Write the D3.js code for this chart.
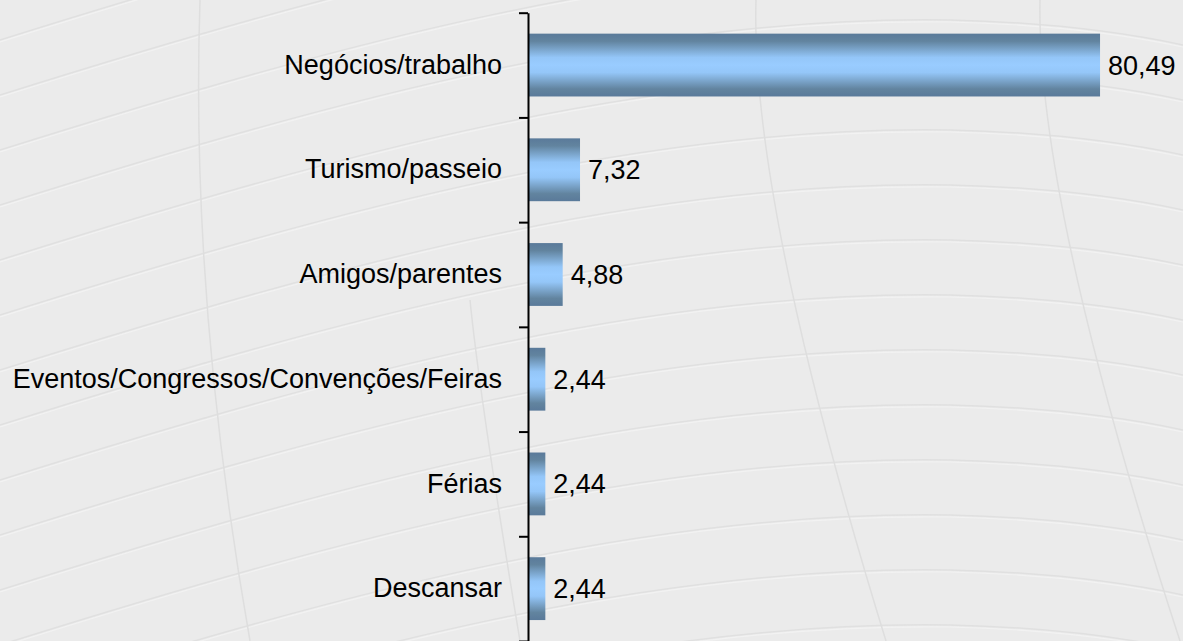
<!DOCTYPE html>
<html>
<head>
<meta charset="utf-8">
<script src="https://cdn.jsdelivr.net/npm/d3@7"></script>
<style>
  html, body { margin: 0; padding: 0; background: #ebebeb; }
  svg { display: block; }
  text { font-family: "Liberation Sans", Arial, sans-serif; }
</style>
</head>
<body>
<svg id="chart" width="1183" height="641"></svg>
<script>
const categories = ["Negócios/trabalho", "Turismo/passeio", "Amigos/parentes",
  "Eventos/Congressos/Convenções/Feiras", "Férias", "Descansar"];
const values = [80.49, 7.32, 4.88, 2.44, 2.44, 2.44];
const valueLabels = ["80,49", "7,32", "4,88", "2,44", "2,44", "2,44"];

const W = 1183, H = 641;
const svg = d3.select("#chart");

// background
svg.append("rect").attr("width", W).attr("height", H).attr("fill", "#ebebeb");
const bg = svg.append("g").attr("fill", "none");
// decorative texture: rising / arching lines
for (let i = -4; i < 16; i++) {
  const y0 = 40 + i * 55;
  const p = d3.path();
  p.moveTo(0, y0);
  p.bezierCurveTo(350, y0 - 110, 650, y0 - 190, 950, y0 - 185);
  p.quadraticCurveTo(1080, y0 - 182, 1183, y0 - 160);
  bg.append("path").attr("d", p.toString()).attr("stroke", "#e0e0e0").attr("stroke-width", 1.5);
  bg.append("path").attr("d", p.toString()).attr("transform", "translate(0,2)")
    .attr("stroke", "#f2f2f2").attr("stroke-width", 1.2);
}
const verts = [[200, 0, 190, 300, 250, 641], [756, 0, 750, 200, 886, 641], [1040, 0, 1036, 200, 1180, 641], [470, 300, 480, 400, 520, 641]];
verts.forEach(v => {
  const p = d3.path();
  p.moveTo(v[0], v[1]);
  p.quadraticCurveTo(v[2], v[3], v[4], v[5]);
  bg.append("path").attr("d", p.toString()).attr("stroke", "#dedede").attr("stroke-width", 1.5);
});

// gradient
const defs = svg.append("defs");
const grad = defs.append("linearGradient").attr("id", "barGrad")
  .attr("x1", 0).attr("y1", 0).attr("x2", 0).attr("y2", 1);
[[0, "#5a7a9a"], [0.12, "#62849f"], [0.38, "#94c6f8"], [0.5, "#99ccff"], [0.62, "#94c6f8"], [0.88, "#62849f"], [1, "#5a7a9a"]]
  .forEach(([o, c]) => grad.append("stop").attr("offset", o).attr("stop-color", c));

// scales
const axisX = 528;
const x = d3.scaleLinear().domain([0, 90]).range([axisX, axisX + 90 * 7.107]);
const y = d3.scaleBand().domain(categories).range([12.7, 641]).paddingInner(0.4).paddingOuter(0.2);
const yEdge = d3.scaleLinear().domain([0, categories.length]).range([12.7, 641]);

// bars
svg.append("g").selectAll("rect").data(values).join("rect")
  .attr("x", x(0))
  .attr("y", (d, i) => y(categories[i]))
  .attr("width", d => x(d) - x(0))
  .attr("height", y.bandwidth())
  .attr("fill", "url(#barGrad)");

// value labels
svg.append("g").selectAll("text").data(values).join("text")
  .attr("x", d => x(d) + 8)
  .attr("y", (d, i) => y(categories[i]) + y.bandwidth() / 2)
  .attr("dy", "0.35em")
  .attr("font-size", 27)
  .attr("fill", "#000")
  .text((d, i) => valueLabels[i]);

// category labels
const labAxis = svg.append("g").attr("transform", `translate(${axisX},0)`)
  .call(d3.axisLeft(y).tickSize(0).tickPadding(26));
labAxis.select(".domain").remove();
labAxis.selectAll("text").attr("font-size", 27).attr("fill", "#000")
  .style("font-family", "'Liberation Sans', Arial, sans-serif");

// axis line + ticks at band edges
const edgeAxis = svg.append("g").attr("transform", `translate(${axisX},0)`)
  .call(d3.axisLeft(yEdge).tickValues(d3.range(categories.length + 1)).tickSize(9).tickSizeOuter(0).tickFormat(""));
edgeAxis.select(".domain").attr("stroke", "#000").attr("stroke-width", 2);
edgeAxis.selectAll(".tick line").attr("stroke", "#000").attr("stroke-width", 2);
</script>
</body>
</html>
